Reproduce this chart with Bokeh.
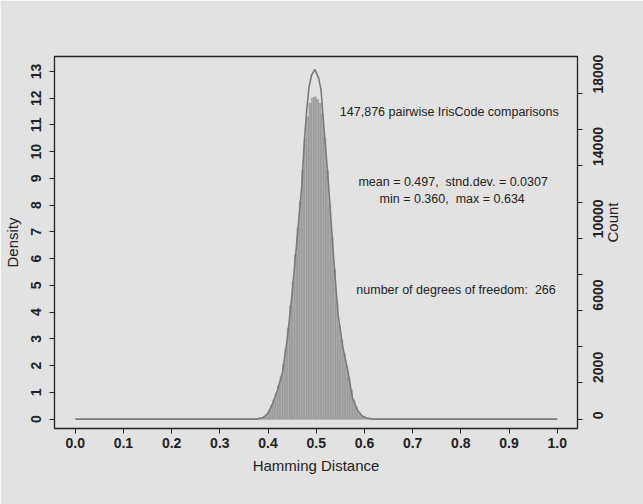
import math
from bokeh.plotting import figure
from bokeh.models import LinearAxis, Range1d, FixedTicker
from bokeh.core.properties import value
from bokeh.embed import file_html
from bokeh.resources import INLINE

# ---- data ----
N_COMPARISONS = 147876
COUNT_BIN_WIDTH = 0.01      # count axis = density * N * 0.01
HIST_BIN_WIDTH = 0.005

hist_left = [0.375, 0.380, 0.385, 0.390, 0.395, 0.400, 0.405, 0.410, 0.415, 0.420,
             0.425, 0.430, 0.435, 0.440, 0.445, 0.450, 0.455, 0.460, 0.465, 0.470,
             0.475, 0.480, 0.485, 0.490, 0.495, 0.500, 0.505, 0.510, 0.515, 0.520,
             0.525, 0.530, 0.535, 0.540, 0.545, 0.550, 0.555, 0.560, 0.565, 0.570,
             0.575, 0.580, 0.585, 0.590, 0.595, 0.600, 0.605, 0.610, 0.615]
hist_density = [0.015, 0.03, 0.05, 0.09, 0.17, 0.30, 0.50, 0.70, 0.95, 1.25,
                1.58, 2.05, 2.65, 3.40, 4.25, 5.15, 6.15, 7.15, 8.15, 9.30,
                10.50, 11.30, 11.80, 12.00, 12.05, 11.95, 11.80, 11.40, 10.50, 9.30,
                8.00, 6.80, 5.60, 4.40, 3.50, 2.95, 2.45, 2.00, 1.55, 1.10,
                0.72, 0.45, 0.25, 0.14, 0.07, 0.035, 0.02, 0.01, 0.005]

curve_x = [0.0, 0.37, 0.38, 0.39, 0.40, 0.41, 0.42, 0.43, 0.44, 0.45, 0.46,
           0.47, 0.475, 0.48, 0.485, 0.49, 0.497, 0.505, 0.51, 0.515, 0.525,
           0.535, 0.545, 0.555, 0.565, 0.575, 0.585, 0.595, 0.605, 0.615,
           0.625, 1.0]
curve_density = [0.0, 0.0, 0.02, 0.06, 0.22, 0.60, 1.10, 1.75, 3.00, 4.70, 6.70,
                 8.70, 10.30, 11.50, 12.40, 12.85, 13.08, 12.75, 12.30, 11.10, 8.90,
                 6.30, 3.95, 2.70, 1.85, 0.80, 0.35, 0.12, 0.04, 0.01,
                 0.0, 0.0]

x_ticks = [0.0, 0.1, 0.2, 0.3, 0.4, 0.5, 0.6, 0.7, 0.8, 0.9, 1.0]
x_tick_labels = ["0.0", "0.1", "0.2", "0.3", "0.4", "0.5", "0.6", "0.7", "0.8", "0.9", "1.0"]
density_ticks = [0, 1, 2, 3, 4, 5, 6, 7, 8, 9, 10, 11, 12, 13]
count_ticks = [0, 2000, 4000, 6000, 8000, 10000, 12000, 14000, 16000, 18000]
count_tick_labels = ["0", "2000", "", "6000", "", "10000", "", "14000", "", "18000"]

NB = "\u00a0"
notes = ["147,876 pairwise IrisCode comparisons",
         "mean = 0.497," + NB + " stnd.dev. = 0.0307",
         "min = 0.360," + NB + " max = 0.634",
         "number of degrees of freedom:" + NB + " 266"]
note_x = [0.776, 0.784, 0.782, 0.790]
note_y = [11.47, 8.85, 8.23, 4.83]

# ---- styling ----
BG = "#e2e2e2"
INK = "#222222"
FONT = "Liberation Sans"

y_lo, y_hi = -0.35, 13.56
count_per_density = N_COMPARISONS * COUNT_BIN_WIDTH

p = figure(width=643, height=504, output_backend="svg", toolbar_location=None,
           x_range=Range1d(-0.043, 1.042), y_range=Range1d(y_lo, y_hi),
           min_border_left=54, min_border_right=66, min_border_top=56,
           min_border_bottom=76)
p.background_fill_color = BG
p.border_fill_color = BG
p.outline_line_color = INK
p.outline_line_width = 1.3
p.grid.visible = False

p.extra_y_ranges = {"count": Range1d(y_lo * count_per_density, y_hi * count_per_density)}

hist_right = [l + HIST_BIN_WIDTH for l in hist_left]
p.quad(left=hist_left, right=hist_right, bottom=0, top=hist_density,
       fill_color="#ababab", line_color="#8e8e8e", line_width=0.6)
p.line(curve_x, curve_density, line_color="#7a7a7a", line_width=1.6)

p.text(x=note_x, y=note_y, text=notes, text_align="center", text_baseline="middle",
       text_font=value(FONT), text_font_size="12.5px", text_color=INK)

def style_axis(ax):
    ax.axis_line_color = None
    ax.major_tick_line_color = INK
    ax.minor_tick_line_color = None
    ax.major_tick_in = 0
    ax.major_tick_out = 5
    ax.major_label_text_font = FONT
    ax.major_label_text_font_size = "14px"
    ax.major_label_text_font_style = "bold"
    ax.major_label_text_color = INK
    ax.axis_label_text_font = FONT
    ax.axis_label_text_font_size = "15px"
    ax.axis_label_text_font_style = "normal"
    ax.axis_label_text_color = INK

xa = p.xaxis[0]
style_axis(xa)
xa.ticker = FixedTicker(ticks=x_ticks)
xa.major_label_overrides = {t: s for t, s in zip(x_ticks, x_tick_labels)}
xa.axis_label = "Hamming Distance"
xa.major_label_standoff = 4
xa.axis_label_standoff = 6

ya = p.yaxis[0]
style_axis(ya)
ya.ticker = FixedTicker(ticks=density_ticks)
ya.axis_label = "Density"
ya.major_label_orientation = "vertical"
ya.major_label_standoff = 8
ya.axis_label_standoff = 8

ra = LinearAxis(y_range_name="count", axis_label="Count")
style_axis(ra)
ra.ticker = FixedTicker(ticks=count_ticks)
ra.major_label_overrides = {t: s for t, s in zip(count_ticks, count_tick_labels)}
ra.major_label_orientation = math.pi / 2   # read bottom-to-top, as in the reference
ra.axis_label_orientation = math.pi / 2
ra.major_label_standoff = 16
ra.axis_label_standoff = 1
p.add_layout(ra, "right")

open("out.html", "w").write(file_html(p, INLINE))
